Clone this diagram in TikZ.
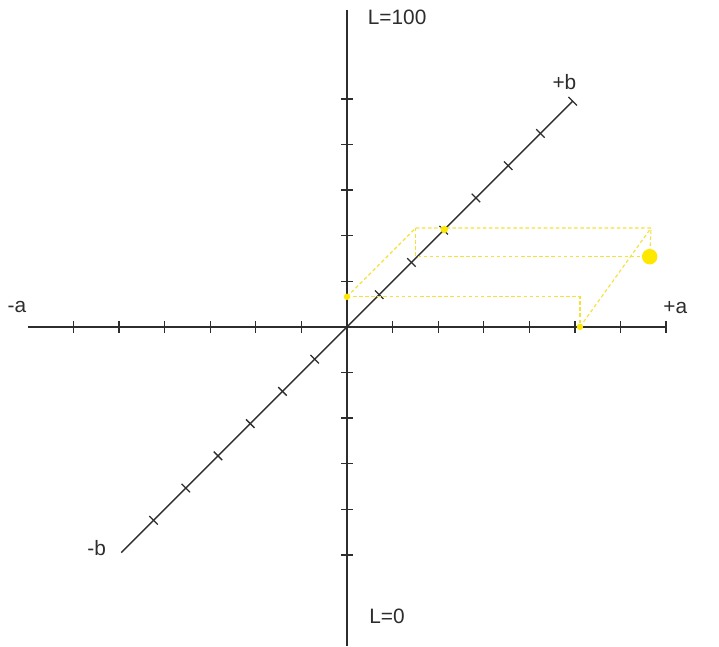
\documentclass[tikz,border=0pt]{standalone}
\usepackage{fontspec}
\setmainfont{Liberation Sans}
\usepackage{xcolor}
\definecolor{axisgray}{RGB}{45,45,45}
\definecolor{labyellow}{RGB}{255,232,0}
\definecolor{boxyellow}{RGB}{245,224,60}
\usetikzlibrary{positioning,calc}

\begin{document}
\begin{tikzpicture}[
  axis/.style={axisgray,line width=0.9pt},
  tickmark/.style={axisgray,line width=0.8pt},
  guide/.style={boxyellow,dash pattern=on 2.2pt off 1.6pt,line width=0.7pt},
  lbl/.style={text=axisgray,font=\fontsize{13}{15}\selectfont,inner sep=0pt}]
  \useasboundingbox (-7.61,-7.0) rectangle (8.16,7.17);
  % 轴的端点
  \coordinate (amin) at (-7,0);
  \coordinate (amax) at (7,0);
  \coordinate (lmin) at (0,-7);
  \coordinate (lmax) at (0,6.95);
  \coordinate (bmin) at (225:7);
  \coordinate (bmax) at (45:7);
  % 坐标轴
  \draw[axis] (amin) -- (amax);
  \draw[axis] (lmin) -- (lmax);
  \draw[axis] (bmin) -- (bmax);
  % 刻度
  \foreach \i in {-6,...,-1,1,2,...,7}
    \draw[tickmark] (\i,-0.13) -- (\i,0.13);
  \foreach \i in {-5,...,-1,1,2,...,5}
    \draw[tickmark] (-0.13,\i) -- (0.13,\i);
  \foreach \i in {-6,...,-1,1,2,...,7}
    \draw[tickmark,shift={(45:\i)}] (-45:0.13) -- (135:0.13);
  % 标签
  \node[lbl] (ltop) at (1.10,6.79) {L=100};
  \node[lbl] (lbottom) at (0.88,-6.34) {L=0};
  \node[lbl] (apos) at (7.2,0.43) {+a};
  \node[lbl] (aneg) at (-7.24,0.43) {-a};
  \node[lbl] (bpos) at (4.77,5.37) {+b};
  \node[lbl] (bneg) at (-5.49,-4.84) {-b};
  % 颜色的位置
  \coordinate (lval) at (0,0.66);
  \coordinate (aval) at (5.11,0);
  \coordinate (bval) at (45:3.02);
  \coordinate (front) at (5.11,0.66);
  \coordinate (backl) at (1.51,2.17);
  \coordinate (backr) at (6.67,2.17);
  \coordinate (midl) at (1.51,1.54);
  \coordinate (color) at (6.64,1.54);
  % 虚线盒子
  \draw[guide] (lval) -- (front) -- (aval);
  \draw[guide] (lval) -- (backl) -- (backr) -- (color);
  \draw[guide] (backl) -- (midl) -- (color);
  \draw[guide] (aval) -- (backr);
  % 点
  \fill[labyellow] (lval) circle (0.07);
  \fill[labyellow] (aval) circle (0.07);
  \fill[labyellow] (bval) circle (0.08);
  \fill[labyellow] (color) circle (0.17);
\end{tikzpicture}
\end{document}
